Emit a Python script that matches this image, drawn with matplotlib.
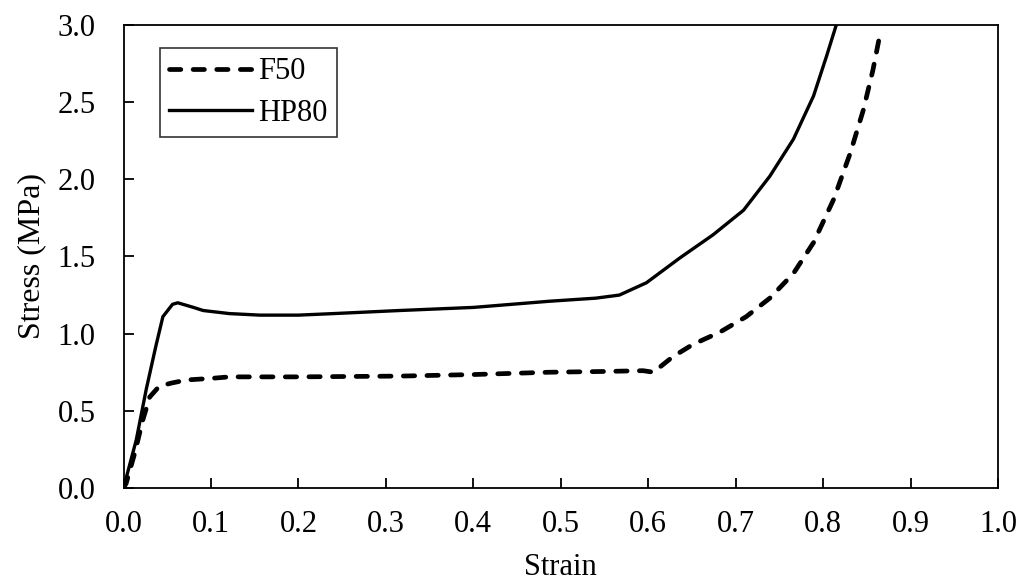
import matplotlib
matplotlib.use("Agg")
import matplotlib.pyplot as plt

plt.rcParams['font.family'] = ['Liberation Serif', 'DejaVu Serif']

# F50 (dashed)
f50_strain = [0.0, 0.003, 0.013, 0.022, 0.030, 0.041, 0.055, 0.072, 0.10, 0.121, 0.144, 0.20,
              0.316, 0.40, 0.487, 0.55, 0.594, 0.606, 0.628, 0.651, 0.682, 0.712, 0.739,
              0.766, 0.789, 0.812, 0.831, 0.846, 0.857, 0.865]
f50_stress = [0.0, 0.03, 0.23, 0.44, 0.59, 0.66, 0.68, 0.70, 0.71, 0.72, 0.72, 0.72,
              0.725, 0.735, 0.75, 0.755, 0.76, 0.75, 0.85, 0.93, 1.01, 1.11, 1.23,
              1.39, 1.59, 1.87, 2.17, 2.45, 2.71, 2.94]

# HP80 (solid)
hp80_strain = [0.0, 0.0145, 0.026, 0.037, 0.045, 0.056, 0.062, 0.068, 0.08, 0.091, 0.121,
               0.156, 0.20, 0.24, 0.316, 0.40, 0.487, 0.54, 0.567, 0.598, 0.636, 0.674,
               0.709, 0.739, 0.766, 0.789, 0.804, 0.815]
hp80_stress = [0.0, 0.31, 0.64, 0.92, 1.11, 1.19, 1.20, 1.19, 1.17, 1.15, 1.13,
               1.12, 1.12, 1.13, 1.15, 1.17, 1.21, 1.23, 1.25, 1.33, 1.49, 1.64,
               1.80, 2.02, 2.26, 2.54, 2.80, 3.0]

fig = plt.figure(figsize=(10.32, 5.87), dpi=100)
ax = fig.add_axes([0.1197, 0.1687, 0.8474, 0.7887])

ax.plot(f50_strain, f50_stress, color='k', lw=3.4, linestyle=(0, (2.4, 2.6)),
        dash_capstyle='round', solid_capstyle='round', label='F50')
ax.plot(hp80_strain, hp80_stress, color='k', lw=2.4, label='HP80')

ax.set_xlim(0, 1.0)
ax.set_ylim(0, 3.0)
ax.set_xticks([i / 10 for i in range(11)])
ax.set_yticks([i / 2 for i in range(7)])
ax.xaxis.set_major_formatter(plt.FormatStrFormatter('%.1f'))
ax.yaxis.set_major_formatter(plt.FormatStrFormatter('%.1f'))
ax.tick_params(direction='in', length=7, width=1.3, labelsize=22)
ax.tick_params(axis='y', pad=20)
ax.tick_params(axis='x', pad=16)
for s in ax.spines.values():
    s.set_linewidth(1.3)

ax.set_xlabel('Strain', fontsize=22, labelpad=10)
ax.set_ylabel('Stress (MPa)', fontsize=23, labelpad=8)

leg = ax.legend(loc='upper left', bbox_to_anchor=(0.042, 0.95), fontsize=22,
                frameon=True, fancybox=False, edgecolor='k', handlelength=2.7,
                borderpad=0.3, labelspacing=0.4, handletextpad=0.2, borderaxespad=0)
leg.get_frame().set_linewidth(1.2)

fig.savefig('out.png', dpi=100)
